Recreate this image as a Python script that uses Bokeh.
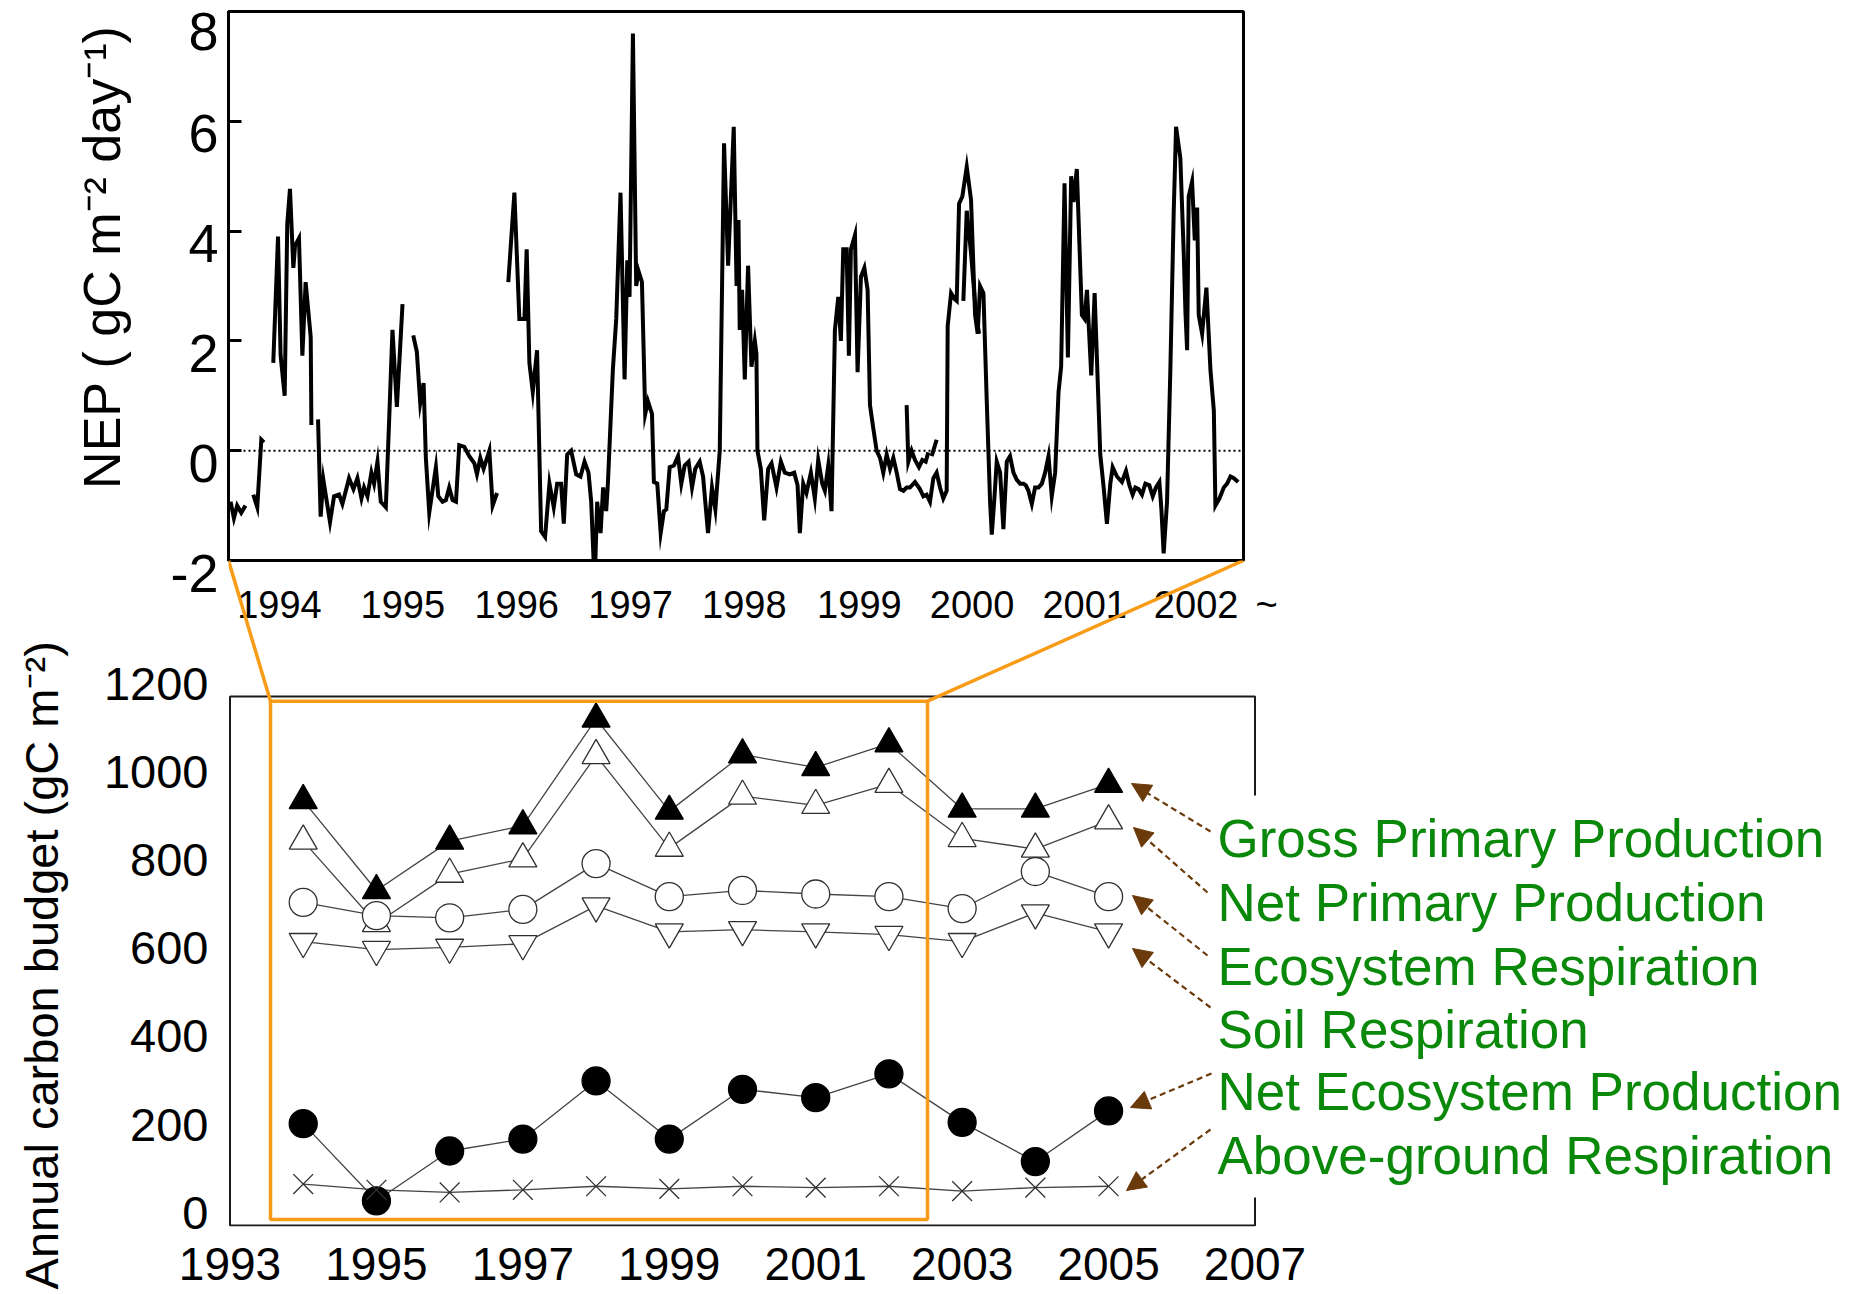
import numpy as np
from bokeh.plotting import figure
from bokeh.models import Range1d, FixedTicker, Span, Arrow, NormalHead
from bokeh.layouts import column
from bokeh.embed import file_html
from bokeh.resources import INLINE
from bokeh.core.properties import value

FONT = "Liberation Sans"
ORANGE = "#F89B17"
GREEN = "#0A880A"
BROWN = "#6B3A0B"

# ---------------- data: NEP time series (decimal year, gC m-2 day-1); None = gap ----------------
nep_t = [1994.018, 1994.048, 1994.077, 1994.113, 1994.151, None,
         1994.220, 1994.255, 1994.291, 1994.314, None,
         1994.397, 1994.439, 1994.462, 1994.498, 1994.521, 1994.545, 1994.575, 1994.590, 1994.625,
         1994.655, 1994.684, 1994.729, 1994.735, None,
         1994.794, 1994.817, 1994.841, 1994.900, 1994.936, 1994.980, 1995.010, 1995.069, 1995.108,
         1995.143, 1995.179, 1995.202, 1995.232, 1995.267, 1995.291, 1995.321, 1995.350, 1995.395,
         1995.424, 1995.454, 1995.493, 1995.543, None,
         1995.638, 1995.670, 1995.700, 1995.730, 1995.750, 1995.780, 1995.839, 1995.860, 1995.898,
         1995.928, 1995.957, 1995.987, 1996.017, 1996.046, 1996.091, 1996.135, 1996.180, 1996.203,
         1996.233, 1996.262, 1996.313, 1996.342, 1996.381, None,
         1996.481, 1996.535, 1996.579, 1996.624, 1996.644, 1996.668, 1996.698, 1996.736, 1996.772,
         1996.807, 1996.846, 1996.884, 1996.914, 1996.949, 1996.973, 1997.003, 1997.038, 1997.083,
         1997.121, 1997.157, 1997.192, 1997.216, 1997.240, 1997.251, 1997.269, 1997.299, 1997.322,
         1997.349, 1997.364, 1997.408, 1997.438, 1997.476, 1997.512, 1997.536, 1997.556, 1997.586,
         1997.615, 1997.636, 1997.666, 1997.695, 1997.719, 1997.755, 1997.772, 1997.802, 1997.832,
         1997.861, 1997.882, 1997.912, 1997.950, 1997.986, 1998.015, 1998.045, 1998.080, 1998.110,
         1998.139, 1998.178, 1998.208, 1998.252, 1998.287, 1998.317, 1998.356, 1998.394, 1998.430,
         1998.480, 1998.505, 1998.522, 1998.533, 1998.554, 1998.578, 1998.607, 1998.637, 1998.667,
         1998.681, 1998.690, 1998.720, 1998.750, 1998.785, 1998.815, 1998.859, 1998.898, 1998.933,
         1998.977, 1999.016, 1999.046, 1999.066, 1999.096, 1999.125, 1999.164, 1999.199, 1999.229,
         1999.265, 1999.288, 1999.318, 1999.347, 1999.377, 1999.407, 1999.430, 1999.451, 1999.481,
         1999.501, 1999.519, 1999.555, 1999.578, 1999.608, 1999.638, 1999.667, 1999.688, 1999.718,
         1999.747, 1999.777, 1999.806, 1999.836, 1999.866, 1999.895, 1999.925, 1999.954, 1999.984,
         2000.013, 2000.042, 2000.087, 2000.131, 2000.161, 2000.190, 2000.220, 2000.250, 2000.279,
         2000.309, 2000.338, 2000.368, 2000.377, 2000.407, 2000.436, 2000.457, 2000.478, 2000.507,
         2000.546, 2000.584, 2000.620, 2000.643, 2000.664, 2000.694, 2000.723, 2000.753, 2000.768,
         2000.791, 2000.812, 2000.842, 2000.871, 2000.901, 2000.930, 2000.960, 2000.990, 2001.019,
         2001.049, 2001.070, 2001.093, 2001.123, 2001.152, 2001.182, 2001.212, 2001.241, 2001.271,
         2001.300, 2001.330, 2001.360, 2001.383, 2001.413, 2001.443, 2001.472, 2001.493, 2001.522,
         2001.567, 2001.591, 2001.612, 2001.650, 2001.680, 2001.730, 2001.760, 2001.789, 2001.819,
         2001.840, 2001.878, 2001.922, 2001.958, 2001.988, 2002.017, 2002.041, 2002.070, 2002.100,
         2002.130, 2002.165, 2002.195, 2002.224, 2002.254, 2002.272, 2002.292, 2002.322, 2002.352,
         2002.381, 2002.402, 2002.440, 2002.470, 2002.485, 2002.500, 2002.514, 2002.544, 2002.568,
         2002.589, 2002.603, 2002.633, 2002.671, 2002.707, 2002.737, 2002.751, 2002.787, 2002.825,
         2002.855, 2002.885, 2002.914, 2002.953]
nep_v = [-0.93, -1.23, -1.00, -1.13, -1.00, None,
         -0.80, -1.03, 0.20, 0.15, None,
         1.60, 3.90, 1.73, 1.00, 4.13, 4.77, 3.33, 3.73, 3.87,
         1.73, 3.07, 2.07, 0.47, None,
         0.57, -1.20, -0.53, -1.30, -0.83, -0.80, -0.97, -0.50, -0.70,
         -0.50, -0.87, -0.67, -0.83, -0.40, -0.60, -0.20, -0.93, -1.03,
         0.53, 2.20, 0.80, 2.67, None,
         2.10, 1.80, 0.87, 1.23, -0.13, -1.13, -0.30, -0.83, -0.93,
         -0.90, -0.67, -0.90, -0.93, 0.10, 0.07, -0.10, -0.23, -0.43,
         -0.13, -0.33, 0.00, -1.00, -0.77, None,
         3.07, 4.70, 2.40, 2.40, 3.67, 1.60, 1.07, 1.83, -1.47,
         -1.57, -0.60, -1.03, -0.60, -0.60, -1.33, -0.07, 0.00, -0.43,
         -0.47, -0.20, -0.40, -0.93, -2.13, -2.13, -0.93, -1.50, -0.67,
         -1.10, -0.60, 1.47, 2.40, 4.70, 1.30, 3.47, 2.80, 7.60,
         3.00, 3.27, 3.07, 0.67, 0.90, 0.67, -0.57, -0.60, -1.50,
         -1.10, -1.07, -0.30, -0.27, -0.10, -0.60, -0.27, -0.20, -0.67,
         -0.33, -0.20, -0.47, -1.50, -0.67, -1.07, 0.00, 5.60, 3.37,
         5.90, 3.00, 4.20, 2.20, 2.93, 1.30, 3.37, 1.53, 2.00,
         1.77, 0.00, -0.33, -1.27, -0.33, -0.23, -0.67, -0.20, -0.40,
         -0.43, -0.40, -0.63, -1.50, -0.60, -0.77, -0.40, -0.87, -0.17,
         -0.60, -0.73, -0.27, -1.10, 2.20, 2.80, 2.00, 3.67, 3.67,
         1.73, 3.67, 3.93, 1.43, 3.17, 3.33, 2.93, 0.83, 0.40,
         0.00, -0.13, -0.40, -0.07, -0.33, -0.13, -0.40, -0.70, -0.73,
         -0.67, -0.67, -0.57, -0.70, -0.83, -0.80, -0.93, -0.50, -0.40,
         -0.67, -0.87, -0.73, 2.27, 2.87, 2.77, 2.73, 4.50, 4.63,
         5.17, 4.57, 2.47, 2.13, 3.00, 2.87, 0.93, -0.93, -1.53,
         -0.87, -0.20, -0.40, -1.43, -0.20, -0.10, -0.40, -0.53, -0.60,
         -0.60, -0.63, -0.73, -0.97, -0.67, -0.67, -0.60, -0.40, -0.10,
         -0.83, -0.40, 1.07, 1.53, 4.87, 1.70, 5.00, 4.53, 5.13,
         2.47, 2.40, 2.93, 1.37, 2.87, -0.07, -0.67, -1.33, -0.60,
         -0.30, -0.47, -0.57, -0.37, -0.63, -0.80, -0.67, -0.70, -0.80,
         -0.60, -0.63, -0.83, -0.67, -0.57, -1.07, -1.87, -0.93, 1.53,
         4.33, 5.90, 5.33, 3.60, 2.53, 1.83, 4.63, 4.90, 3.83,
         4.43, 2.47, 2.13, 2.97, 1.47, 0.73, -1.00, -0.87, -0.67,
         -0.60, -0.47, -0.50, -0.57]

# overlapping fragments drawn on top of the main record (late 1999 / 2000 peak)
nep2_t = [2000.013, 2000.028, 2000.057, 2000.087, 2000.122, 2000.152, 2000.182, 2000.205, None,
          2000.235, 2000.279, None,
          2000.516, 2000.546, 2000.584, 2000.626, 2000.655]
nep2_v = [0.83, -0.20, 0.00, -0.17, -0.30, -0.17, -0.20, -0.03, None,
          -0.10, 0.20, None,
          2.73, 4.37, 3.60, 2.53, 2.13]

top_year_ticks = [1994.452, 1995.546, 1996.555, 1997.565, 1998.574, 1999.594, 2000.593, 2001.592, 2002.580]
top_year_labels = ["1994", "1995", "1996", "1997", "1998", "1999", "2000", "2001", "2002"]
top_y_ticks = [-2, 0, 2, 4, 6, 8]

# ---------------- data: annual carbon budget (gC m-2) ----------------
years = [1994, 1995, 1996, 1997, 1998, 1999, 2000, 2001, 2002, 2003, 2004, 2005]
gpp = [964, 760, 872, 907, 1149, 940, 1068, 1039, 1093, 945, 945, 1001]
npp = [872, 685, 797, 832, 1066, 856, 974, 953, 1001, 878, 854, 918]
reco = [733, 703, 698, 717, 821, 746, 760, 752, 746, 719, 803, 746]
rsoil = [644, 626, 631, 639, 725, 666, 671, 666, 660, 644, 709, 666]
nep_annual = [231, 56, 169, 196, 328, 196, 309, 290, 344, 234, 145, 260]
rabove = [94, 81, 75, 81, 89, 83, 89, 86, 89, 78, 86, 89]

bottom_x_ticks = [1993, 1995, 1997, 1999, 2001, 2003, 2005, 2007]
bottom_y_ticks = [0, 200, 400, 600, 800, 1000, 1200]

legend_labels = ["Gross Primary Production", "Net Primary Production", "Ecosystem Respiration",
                 "Soil Respiration", "Net Ecosystem Production", "Above-ground Respiration"]


def arr(a):
    return np.array([np.nan if v is None else v for v in a], dtype=float)


NB = "\u00a0"

# ---------------- page geometry (px) ----------------
LEFT = 228            # left border shared by both panels
RIGHT_PAD = 2         # right border shared by both panels
TOP_FRAME_TOP = 11
TOP_FRAME_BOTTOM = 560
TOP_FRAME_RIGHT = 1243
P1_H = 630
P2_CANVAS_TOP = 400
BOT_Y0 = 1225         # pixel row of budget = 0
BOT_Y1200 = 696       # pixel row of budget = 1200
BOT_X1993 = 229.5     # pixel column of 1993
PX_PER_YEAR = (1252 - 227) / 14.0
PX_PER_UNIT = (BOT_Y0 - BOT_Y1200) / 1200.0

# ---------------- top figure: NEP ----------------
p1 = figure(width=TOP_FRAME_RIGHT + RIGHT_PAD, height=P1_H, title=None,
            x_range=Range1d(1994, 2003), y_range=Range1d(-2, 8),
            output_backend="svg", toolbar_location=None,
            min_border_left=LEFT, min_border_right=RIGHT_PAD,
            min_border_top=TOP_FRAME_TOP, min_border_bottom=P1_H - TOP_FRAME_BOTTOM)
p1.background_fill_color = "white"
p1.border_fill_color = "white"
p1.outline_line_color = "black"
p1.outline_line_width = 3
p1.grid.visible = False

xa = p1.xaxis[0]
xa.ticker = FixedTicker(ticks=top_year_ticks)
xa.major_label_overrides = {t: l for t, l in zip(top_year_ticks, top_year_labels)}
xa.major_tick_line_color = None
xa.minor_tick_line_color = None
xa.axis_line_width = 3
xa.major_label_standoff = 24
xa.major_label_text_font = FONT
xa.major_label_text_font_size = "38px"
xa.major_label_text_color = "black"

ya = p1.yaxis[0]
ya.ticker = FixedTicker(ticks=top_y_ticks)
ya.major_label_overrides = {t: ("\n" + str(t) if t != 8 else str(t)) for t in top_y_ticks}
ya.major_label_text_line_height = 0.4
ya.major_tick_in = 13
ya.major_tick_out = 0
ya.major_tick_line_width = 3
ya.minor_tick_line_color = None
ya.axis_line_width = 3
ya.major_label_standoff = 10
ya.major_label_text_font = FONT
ya.major_label_text_font_size = "54px"
ya.major_label_text_color = "black"
ya.axis_label = NB * 4 + "NEP ( gC m\u207b\u00b2 day\u207b\u00b9)"
ya.axis_label_text_font = FONT
ya.axis_label_text_font_size = "52px"
ya.axis_label_text_font_style = "normal"
ya.axis_label_text_color = "black"
ya.axis_label_standoff = 36

p1.add_layout(Span(location=0, dimension="width", line_color="black", line_width=2, line_dash="2 3"))
p1.line(arr(nep_t), arr(nep_v), line_color="black", line_width=4, line_join="miter")
p1.line(arr(nep2_t), arr(nep2_v), line_color="black", line_width=4, line_join="miter")

# ---------------- bottom figure: annual budget ----------------
# its frame reaches up to the top panel so the orange connectors can be drawn in data space
P2_W = 1856
P2_FRAME_BOTTOM = BOT_Y0 + 1
P2_H = 1294 - P2_CANVAS_TOP
x_lo = 1993 - (BOT_X1993 - LEFT) / PX_PER_YEAR
x_hi = x_lo + (P2_W - RIGHT_PAD - LEFT) / PX_PER_YEAR
y_lo = -(P2_FRAME_BOTTOM - BOT_Y0) / PX_PER_UNIT
y_hi = (BOT_Y0 - TOP_FRAME_BOTTOM) / PX_PER_UNIT


def sx(px):   # page pixel column -> budget-panel x
    return x_lo + (px - LEFT) / PX_PER_YEAR


def sy(py):   # page pixel row -> budget-panel y
    return (BOT_Y0 - py) / PX_PER_UNIT


p2 = figure(width=P2_W, height=P2_H, title=None,
            x_range=Range1d(x_lo, x_hi), y_range=Range1d(y_lo, y_hi),
            output_backend="svg", toolbar_location=None,
            min_border_left=LEFT, min_border_right=RIGHT_PAD,
            min_border_top=TOP_FRAME_BOTTOM - P2_CANVAS_TOP, min_border_bottom=1294 - P2_FRAME_BOTTOM)
p2.margin = (-(P1_H - P2_CANVAS_TOP), 0, 0, 0)
p2.background_fill_color = None
p2.border_fill_color = None
p2.outline_line_color = None
p2.grid.visible = False

bx = p2.xaxis[0]
bx.ticker = FixedTicker(ticks=bottom_x_ticks)
bx.axis_line_color = None
bx.major_tick_line_color = None
bx.minor_tick_line_color = None
bx.major_label_standoff = 15
bx.major_label_text_font = FONT
bx.major_label_text_font_size = "46px"
bx.major_label_text_color = "black"

by = p2.yaxis[0]
by.ticker = FixedTicker(ticks=bottom_y_ticks)
by.major_label_overrides = {t: str(t) + "\n" for t in bottom_y_ticks}
by.major_label_text_line_height = 0.5
by.axis_line_color = None
by.major_tick_line_color = None
by.minor_tick_line_color = None
by.major_label_standoff = 14
by.major_label_text_font = FONT
by.major_label_text_font_size = "47px"
by.major_label_text_color = "black"
by.axis_label = "Annual carbon budget (gC m\u207b\u00b2)" + NB * 11
by.axis_label_text_font = FONT
by.axis_label_text_font_size = "47px"
by.axis_label_text_font_style = "normal"
by.axis_label_text_color = "black"
by.axis_label_standoff = 33

# plot box
p2.quad(left=[bottom_x_ticks[0]], right=[bottom_x_ticks[-1]], bottom=[bottom_y_ticks[0]], top=[bottom_y_ticks[-1]],
        fill_color=None, line_color="#1a1a1a", line_width=2)

LINE_C = "#444444"
for series in (gpp, npp, reco, rsoil, nep_annual, rabove):
    p2.line(years, series, line_color=LINE_C, line_width=1.3)

MS = 28
p2.scatter(years, gpp, marker="triangle", size=MS, fill_color="black", line_color="black", line_width=1.3)
p2.scatter(years, npp, marker="triangle", size=MS, fill_color="white", line_color="#303030", line_width=1.3)
p2.scatter(years, reco, marker="circle", size=MS, fill_color="white", line_color="#303030", line_width=1.3)
p2.scatter(years, rsoil, marker="inverted_triangle", size=MS, fill_color="white", line_color="#303030", line_width=1.3)
p2.scatter(years, nep_annual, marker="circle", size=MS, fill_color="black", line_color="black", line_width=1.3)
p2.scatter(years, rabove, marker="x", size=MS, line_color="#303030", line_width=1.3)

# orange zoom box and connectors to the top panel's lower corners
box_l, box_r, box_b, box_t = sx(270), sx(927), sy(1219), sy(700.7)
p2.quad(left=[box_l], right=[box_r], bottom=[box_b], top=[box_t],
        fill_color=None, line_color=ORANGE, line_width=3.5)
p2.segment(x0=[sx(LEFT), sx(TOP_FRAME_RIGHT)], y0=[y_hi, y_hi], x1=[box_l, box_r], y1=[box_t, box_t],
           line_color=ORANGE, line_width=3.5)

# the "~" that continues the top panel's year axis
p2.text(x=[sx(1266)], y=[sy(604)], text=["~"], text_font=value(FONT), text_font_size="38px",
        text_color="black", text_align="center", text_baseline="middle")

# white mask behind the labels (hides the frame edge there)
p2.quad(left=[sx(1211)], right=[sx(1262)], bottom=[sy(1197)], top=[sy(795)], fill_color="white", line_color=None)

# labels
label_y = [sy(838), sy(902), sy(966), sy(1029), sy(1091), sy(1155)]
p2.text(x=[sx(1217)] * 6, y=label_y, text=legend_labels, text_font=value(FONT), text_font_size="53px",
        text_color=GREEN, text_baseline="middle", text_align="left")

# dashed arrows from labels to the 2005 markers
tails = [(1210, 831), (1207, 892), (1207, 955), (1210, 1007), (1211, 1073), (1210, 1129)]
tips = [(1131, 783), (1133, 827), (1132, 895), (1132, 948), (1130, 1107), (1126, 1190)]
for (xs, ys), (xe, ye) in zip(tails, tips):
    p2.add_layout(Arrow(x_start=sx(xs), y_start=sy(ys), x_end=sx(xe), y_end=sy(ye),
                        line_color=BROWN, line_width=2.2, line_dash="6 4",
                        end=NormalHead(size=19, fill_color=BROWN, line_color=BROWN, line_width=1)))

layout = column(p1, p2)
open("out.html", "w").write(file_html(layout, INLINE))
